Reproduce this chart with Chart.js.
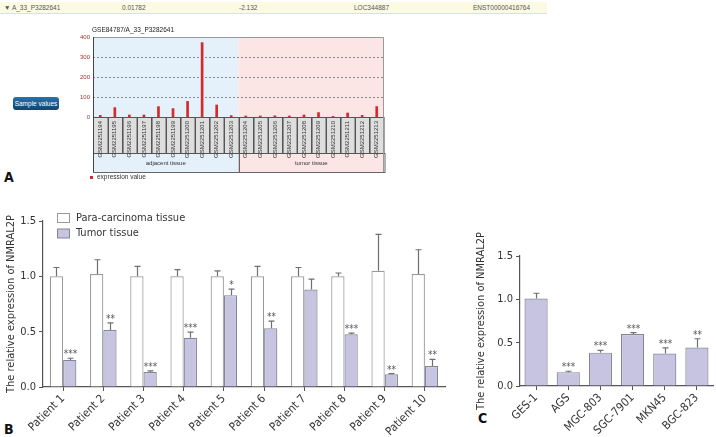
<!DOCTYPE html>
<html>
<head>
<meta charset="utf-8">
<script src="https://cdn.jsdelivr.net/npm/chart.js@4.4.1/dist/chart.umd.min.js"></script>
<style>
body { margin: 0; background: #fff; width: 716px; height: 437px; overflow: hidden; position: relative; font-family: Arial, 'Liberation Sans', sans-serif; }
.abs { position: absolute; }
#hdr { left: 0; top: 2px; width: 547px; height: 11px; background: #fdfae3; border-bottom: 1px solid #d4e2ee; font-size: 6.5px; color: #555; }
#hdr span { position: absolute; top: 0; line-height: 11px; white-space: nowrap; }
#btn { left: 13px; top: 97px; width: 46px; height: 13px; border-radius: 3px; background: linear-gradient(#2b72aa, #10456f); color: #fff; font-size: 6.5px; line-height: 13px; text-align: center; }
.lab { font-family: 'DejaVu Sans Condensed', Arial, sans-serif; font-weight: bold; font-size: 14px; line-height: 15px; color: #111; }
</style>
</head>
<body>
<div id="hdr" class="abs">
  <span style="left:4px">&#9660; A_33_P3282641</span>
  <span style="left:122px">0.01782</span>
  <span style="left:239px">-2.132</span>
  <span style="left:354px">LOC344887</span>
  <span style="left:473px">ENST00000416764</span>
</div>
<div id="btn" class="abs">Sample values</div>
<div class="abs lab" style="left:4px;top:170px">A</div>
<div class="abs lab" style="left:4px;top:422px">B</div>
<div class="abs lab" style="left:478px;top:411px">C</div>

<canvas id="cA" class="abs" width="340" height="162" style="left:55px;top:22px"></canvas>
<canvas id="cB" class="abs" width="460" height="237" style="left:0;top:200px"></canvas>
<canvas id="cC" class="abs" width="246" height="237" style="left:470px;top:200px"></canvas>

<script>
// ---- panel A data
const gsmIds = ['GSM2251194', 'GSM2251195', 'GSM2251196', 'GSM2251197', 'GSM2251198', 'GSM2251199', 'GSM2251200', 'GSM2251201', 'GSM2251202', 'GSM2251203',
    'GSM2251204', 'GSM2251205', 'GSM2251206', 'GSM2251207', 'GSM2251208', 'GSM2251209', 'GSM2251210', 'GSM2251211', 'GSM2251212', 'GSM2251213'];
const exprValues = [8, 47, 10, 10, 52, 42, 78, 372, 60, 7, 5, 5, 6, 5, 10, 22, 3, 20, 8, 52];
const tissueGroups = ['adjacent tissue', 'tumor tissue'];
const tissueCounts = [10, 10];
const exprTicks = [0, 100, 200, 300, 400];

// ---- panel B data
const patients = ['Patient 1', 'Patient 2', 'Patient 3', 'Patient 4', 'Patient 5', 'Patient 6', 'Patient 7', 'Patient 8', 'Patient 9', 'Patient 10'];
const paraMean = [1.0, 1.02, 1.0, 1.0, 1.0, 1.0, 1.0, 1.0, 1.05, 1.02];
const paraErr = [0.08, 0.13, 0.09, 0.06, 0.05, 0.09, 0.08, 0.03, 0.33, 0.22];
const tumorMean = [0.245, 0.515, 0.135, 0.445, 0.83, 0.53, 0.88, 0.476, 0.115, 0.19];
const tumorErr = [0.015, 0.065, 0.01, 0.05, 0.055, 0.065, 0.095, 0.01, 0.005, 0.06];
const tumorStars = ['***', '**', '***', '***', '*', '**', '', '***', '**', '**'];

// ---- panel C data
const cellLines = ['GES-1', 'AGS', 'MGC-803', 'SGC-7901', 'MKN45', 'BGC-823'];
const cellMean = [1.01, 0.16, 0.385, 0.60, 0.375, 0.445];
const cellErr = [0.06, 0.01, 0.025, 0.015, 0.065, 0.1];
const cellStars = ['', '***', '***', '***', '***', '**'];

const relTicks = [0, 0.5, 1.0, 1.5];
const relTickLabels = ['0.0', '0.5', '1.0', '1.5'];

const SANS = "Arial, 'Liberation Sans', sans-serif";
const NARROW = "'Liberation Sans Narrow', 'Arial Narrow', 'DejaVu Sans Condensed', sans-serif";
const bandFill = ['#e4f0fa', '#fbe5e5'];

// background bands, label cells and group boxes for panel A
const panelA = {
    id: 'panelA',
    beforeDraw(chart) {
        const { ctx, chartArea: a, scales: { y } } = chart;
        const w = (a.right - a.left) / gsmIds.length;
        const cellBot = a.bottom + 36, grpBot = a.bottom + 55;
        ctx.save();
        let k = 0;
        tissueCounts.forEach((cnt, g) => {
            const x0 = a.left + k * w, x1 = a.left + (k + cnt) * w;
            ctx.fillStyle = bandFill[g];
            ctx.fillRect(x0, a.top, x1 - x0, a.bottom - a.top);
            ctx.fillRect(x0, cellBot, x1 - x0, grpBot - cellBot);
            ctx.strokeStyle = '#666';
            ctx.lineWidth = 1;
            ctx.strokeRect(Math.round(x0) + 0.5, cellBot + 0.5, x1 - x0, grpBot - cellBot);
            ctx.fillStyle = '#333';
            ctx.font = '6px ' + SANS;
            ctx.textAlign = 'center';
            ctx.textBaseline = 'middle';
            ctx.fillText(tissueGroups[g], (x0 + x1) / 2, (cellBot + grpBot) / 2 + 1);
            k += cnt;
        });
        ctx.fillStyle = '#dedede';
        ctx.fillRect(a.left, a.bottom, a.right - a.left, cellBot - a.bottom);
        ctx.strokeStyle = '#555';
        gsmIds.forEach((id, i) => {
            ctx.strokeRect(Math.round(a.left + i * w) + 0.5, a.bottom + 0.5, w, cellBot - a.bottom);
        });
        // dashed grid
        ctx.setLineDash([2, 2]);
        ctx.strokeStyle = '#8a8a8a';
        exprTicks.slice(1, -1).forEach(v => {
            const yy = Math.round(y.getPixelForValue(v)) + 0.5;
            ctx.beginPath(); ctx.moveTo(a.left, yy); ctx.lineTo(a.right, yy); ctx.stroke();
        });
        ctx.setLineDash([]);
        // frame
        ctx.strokeStyle = '#999';
        ctx.beginPath();
        ctx.moveTo(a.left, a.top + 0.5); ctx.lineTo(a.right - 0.5, a.top + 0.5); ctx.lineTo(a.right - 0.5, grpBot);
        ctx.stroke();
        ctx.strokeStyle = '#444';
        ctx.beginPath();
        ctx.moveTo(a.left + 0.5, a.top); ctx.lineTo(a.left + 0.5, grpBot);
        ctx.stroke();
        // title and legend
        ctx.fillStyle = '#222';
        ctx.font = '6.5px ' + SANS;
        ctx.textAlign = 'left';
        ctx.textBaseline = 'middle';
        ctx.fillText('GSE84787/A_33_P3282641', a.left - 1, a.top - 7);
        ctx.fillStyle = '#d42a2a';
        ctx.fillRect(a.left - 3, grpBot + 4, 3, 3);
        ctx.fillStyle = '#333';
        ctx.fillText(chart.data.datasets[0].label, a.left + 4, grpBot + 5.5);
        ctx.restore();
    }
};

// error bars and significance stars for panels B and C
const errorBars = {
    id: 'errorBars',
    afterDatasetsDraw(chart) {
        const { ctx, scales: { y } } = chart;
        ctx.save();
        chart.data.datasets.forEach((ds, i) => {
            if (!ds.errors) return;
            chart.getDatasetMeta(i).data.forEach((bar, j) => {
                const top = y.getPixelForValue(ds.data[j] + ds.errors[j]);
                const cx = Math.round(bar.x) + 0.5;
                ctx.strokeStyle = '#6f6f6f';
                ctx.lineWidth = 1.2;
                ctx.beginPath();
                ctx.moveTo(cx, bar.y); ctx.lineTo(cx, top);
                ctx.moveTo(cx - 3, top); ctx.lineTo(cx + 3, top);
                ctx.stroke();
                const s = ds.stars && ds.stars[j];
                if (s) {
                    ctx.fillStyle = '#555';
                    ctx.font = '10px ' + NARROW;
                    ctx.textAlign = 'center';
                    ctx.textBaseline = 'alphabetic';
                    ctx.fillText(s, cx, top - 1);
                }
            });
        });
        ctx.restore();
    }
};

// legend inside panel B
const legendB = {
    id: 'legendB',
    afterDraw(chart) {
        const { ctx } = chart;
        ctx.save();
        ctx.font = '11px ' + NARROW;
        ctx.textBaseline = 'middle';
        ctx.textAlign = 'left';
        chart.data.datasets.forEach((ds, i) => {
            const yy = 13 + i * 15.5;
            ctx.fillStyle = ds.backgroundColor;
            ctx.fillRect(57.5, yy + 0.5, 12, 9);
            ctx.strokeStyle = ds.borderColor;
            ctx.lineWidth = 1;
            ctx.strokeRect(57.5, yy + 0.5, 12, 9);
            ctx.fillStyle = '#333';
            ctx.fillText(ds.label, 76, yy + 5);
        });
        ctx.restore();
    }
};

function relAxes(leftWidth, bottomHeight) {
    return {
        x: {
            grid: { display: true, drawOnChartArea: false, offset: false, tickLength: 4, color: '#555' },
            border: { color: '#555', width: 1.2 },
            ticks: { autoSkip: false, minRotation: 45, maxRotation: 45, padding: 1, color: '#333', font: { size: 11.5, family: NARROW } },
            afterFit: s => { s.height = bottomHeight; }
        },
        y: {
            min: 0, max: 1.5,
            afterBuildTicks: s => { s.ticks = relTicks.map(v => ({ value: v })); },
            grid: { display: true, drawOnChartArea: false, tickLength: 4, color: '#555' },
            border: { color: '#555', width: 1.2 },
            ticks: { padding: 3, color: '#333', font: { size: 11, family: NARROW }, callback: (v, i) => relTickLabels[i] },
            title: { display: true, text: 'The relative expression of NMRAL2P', color: '#333', font: { size: 11, family: NARROW }, padding: { top: 5, bottom: 0 } },
            afterFit: s => { s.width = leftWidth; }
        }
    };
}

new Chart(document.getElementById('cA'), {
    type: 'bar',
    data: {
        labels: gsmIds,
        datasets: [{ label: 'expression value', data: exprValues, backgroundColor: '#d42a2a', barThickness: 2 }]
    },
    options: {
        responsive: false, animation: false, devicePixelRatio: 1,
        layout: { padding: { left: 0, top: 15, right: 11, bottom: 12 } },
        plugins: { legend: { display: false }, tooltip: { enabled: false } },
        scales: {
            x: {
                grid: { display: false, drawTicks: false }, border: { display: false },
                ticks: { autoSkip: false, minRotation: 90, maxRotation: 90, padding: 4, color: '#333', font: { size: 6, family: SANS } },
                afterFit: s => { s.height = 55; }
            },
            y: {
                min: 0, max: 400,
                afterBuildTicks: s => { s.ticks = exprTicks.map(v => ({ value: v })); },
                grid: { display: false, drawTicks: false }, border: { display: false },
                ticks: { padding: 3, color: '#a83232', font: { size: 6, family: SANS } },
                afterFit: s => { s.width = 38; }
            }
        }
    },
    plugins: [panelA]
});

new Chart(document.getElementById('cB'), {
    type: 'bar',
    data: {
        labels: patients,
        datasets: [
            { label: 'Para-carcinoma tissue', data: paraMean, errors: paraErr, backgroundColor: '#ffffff', borderColor: '#999999', borderWidth: 1.2, categoryPercentage: 0.66, barPercentage: 1.0 },
            { label: 'Tumor tissue', data: tumorMean, errors: tumorErr, stars: tumorStars, backgroundColor: '#c6c4e1', borderColor: '#85859a', borderWidth: 1.2, categoryPercentage: 0.66, barPercentage: 1.0 }
        ]
    },
    options: {
        responsive: false, animation: false, devicePixelRatio: 1,
        layout: { padding: { left: 0, top: 21, right: 15, bottom: 0 } },
        plugins: { legend: { display: false }, tooltip: { enabled: false } },
        scales: relAxes(43, 50)
    },
    plugins: [errorBars, legendB]
});

new Chart(document.getElementById('cC'), {
    type: 'bar',
    data: {
        labels: cellLines,
        datasets: [
            { label: 'Cell lines', data: cellMean, errors: cellErr, stars: cellStars, backgroundColor: '#c6c4e1', borderColor: '#85859a', borderWidth: 1.2, categoryPercentage: 1.0, barPercentage: 0.72 }
        ]
    },
    options: {
        responsive: false, animation: false, devicePixelRatio: 1,
        layout: { padding: { left: 0, top: 56, right: 3, bottom: 0 } },
        plugins: { legend: { display: false }, tooltip: { enabled: false } },
        scales: relAxes(50, 51)
    },
    plugins: [errorBars]
});
</script>
</body>
</html>
